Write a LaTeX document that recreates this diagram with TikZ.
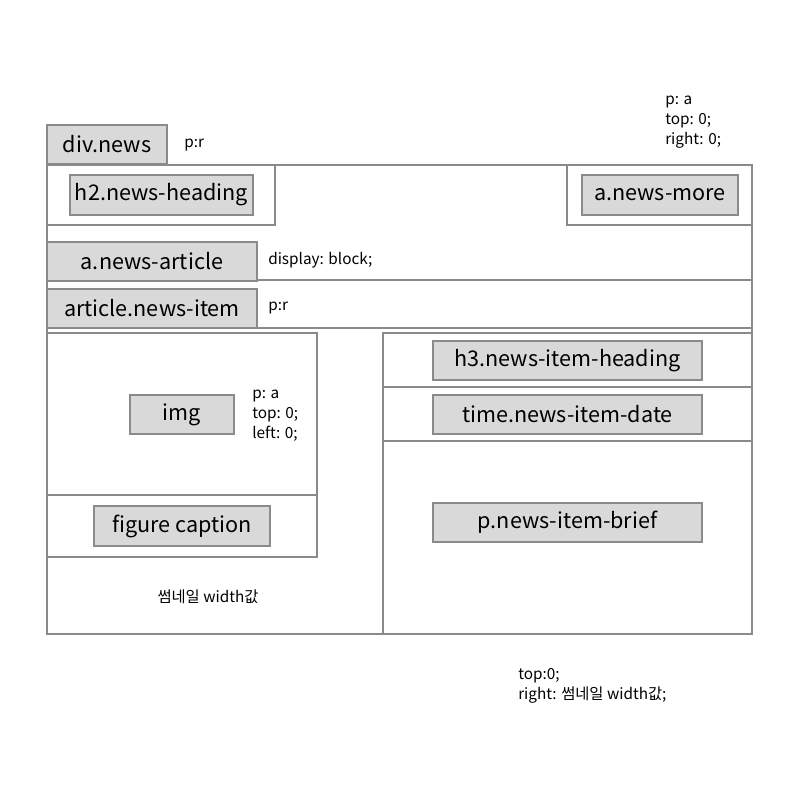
\documentclass[tikz,border=0pt]{standalone}
\usepackage{fontspec}
\setmainfont{Noto Sans CJK KR}
\definecolor{edgegray}{HTML}{8A8A8A}
\definecolor{tagfill}{HTML}{D9D9D9}
\tikzset{
  frame/.style={draw=edgegray, line width=1.5pt},
  tagbox/.style={draw=edgegray, line width=1.5pt, fill=tagfill, minimum height=29.5pt,
    inner sep=0pt, font=\fontsize{16.2}{18}\selectfont},
  note/.style={align=left, inner sep=0pt, font=\fontsize{11.5}{15}\selectfont}
}
\begin{document}
\begin{tikzpicture}[x=0.75pt, y=-0.75pt]
			\useasboundingbox (0,0) rectangle (800,800);
			
			%%%%% FRAMES %%%%%
			\draw[frame] (47,165) rectangle (752,634);
			\draw[frame] (47,280) -- (752,280);
			\draw[frame] (47,328) -- (752,328);
			\draw[frame] (47,165) rectangle (275,225);
			\draw[frame] (567,165) rectangle (752,225);
			
			\draw[frame] (47,333) rectangle (317,557);
			\draw[frame] (47,495) -- (317,495);
			
			\draw[frame] (383,333) rectangle (752,634);
			\draw[frame] (383,387) -- (752,387);
			\draw[frame] (383,441) -- (752,441);
			
			%%%%% TAGS %%%%%
			\node[tagbox, minimum width=90pt] (divnews) at (107,144.5) {div.news};
			\node[tagbox, minimum width=137pt] (heading) at (161.5,195) {h2.news-heading};
			\node[tagbox, minimum width=117pt] (more) at (660,195) {a.news-more};
			\node[tagbox, minimum width=157.5pt] (article) at (152,261.5) {a.news-article};
			\node[tagbox, minimum width=157.5pt] (item) at (152,308.5) {article.news-item};
			
			\node[tagbox, minimum width=78pt] (img) at (182,414.5) {img};
			\node[tagbox, minimum width=132pt] (caption) at (182,526) {figure caption};
			
			\node[tagbox, minimum width=201.75pt] (itemheading) at (567.5,360.5) {h3.news-item-heading};
			\node[tagbox, minimum width=201.75pt] (itemdate) at (567.5,414.5) {time.news-item-date};
			\node[tagbox, minimum width=201.75pt] (itembrief) at (567.5,522.5) {p.news-item-brief};
			
			%%%%% NOTES %%%%%
			\node[note, anchor=west] (divnote) at (184,145) {p:r};
			\node[note, anchor=west] (morenote) at (665,122) {p: a\\top: 0;\\right: 0;};
			\node[note, anchor=west] (articlenote) at (268,260) {display: block;};
			\node[note, anchor=west] (itemnote) at (268,308) {p:r};
			\node[note, anchor=west] (imgnote) at (252,416) {p: a\\top: 0;\\left: 0;};
			\node[note] (thumbnote) at (208,597) {썸네일 width값};
			\node[note, anchor=west] (bodynote) at (518,686) {top:0;\\right: 썸네일 width값;};
			
\end{tikzpicture}
\end{document}
